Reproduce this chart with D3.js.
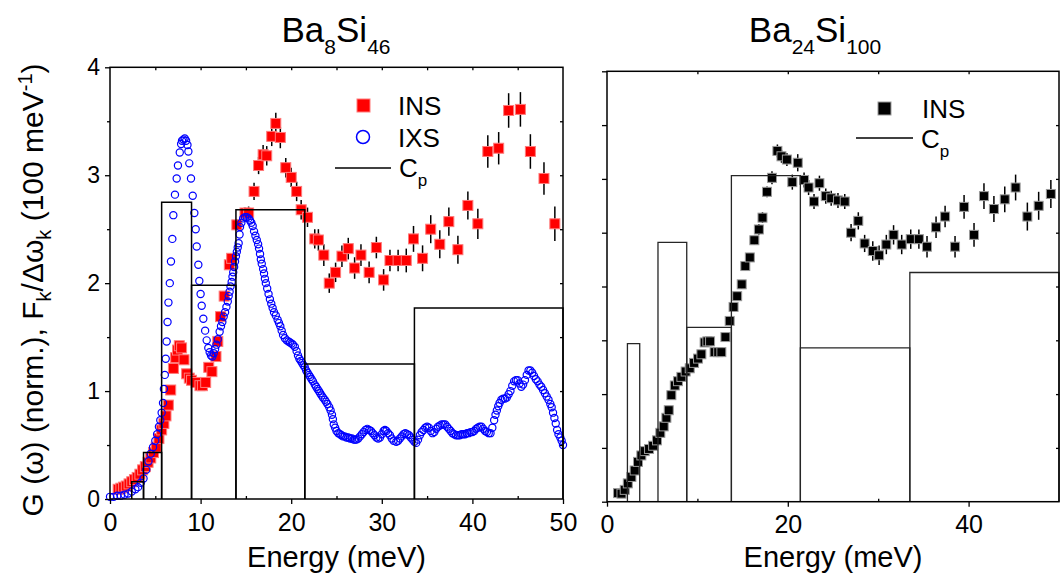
<!DOCTYPE html>
<html>
<head>
<meta charset="utf-8">
<script src="https://cdn.jsdelivr.net/npm/d3@7"></script>
<style>
  html, body { margin: 0; padding: 0; background: #fff; }
  svg text { font-family: "Liberation Sans", Arial, sans-serif; fill: #000; }
</style>
</head>
<body>
<svg id="chart" width="1064" height="585"></svg>
<script>
// ---------- Ba8Si46: IXS phonon DOS G(w), normalised ----------
const ixsEnergy = [
  0.0,0.4,0.8,1.2,1.6,2.0,2.4,2.8,3.1,3.4,3.7,4.0,4.25,4.5,4.75,5.0,5.2,5.4,5.55,5.7,
  5.85,5.95,6.05,6.15,6.25,6.35,6.45,6.6,6.73,6.88,6.99,7.17,7.36,7.5,7.7,7.85,7.95,8.1,8.25,8.4,
  8.55,8.65,8.75,8.94,9.13,9.31,9.46,9.57,9.75,9.86,10.0,10.12,10.3,10.5,10.67,10.85,11.0,11.15,11.3,11.45,
  11.6,11.75,11.9,12.1,12.25,12.4,12.55,12.7,12.85,13.0,13.1,13.2,13.3,13.43,13.52,13.6,13.7,13.8,13.9,14.0,
  14.1,14.2,14.3,14.35,14.5,14.7,14.9,15.1,15.3,15.45,15.6,15.75,15.9,16.05,16.2,16.35,16.45,16.56,16.65,16.75,
  16.9,17.0,17.1,17.2,17.35,17.5,17.65,17.8,17.95,18.1,18.3,18.5,18.65,18.8,18.95,19.1,19.3,19.5,19.7,19.87,
  20.05,20.2,20.4,20.6,20.75,20.9,21.05,21.2,21.35,21.5,21.65,21.8,21.95,22.1,22.25,22.4,22.6,22.75,22.9,23.05,
  23.2,23.35,23.5,23.7,23.85,24.0,24.2,24.35,24.5,24.6,24.7,24.85,25.0,25.2,25.4,25.55,25.7,25.9,26.1,26.3,
  26.5,26.7,26.9,27.05,27.2,27.4,27.6,27.8,28.0,28.2,28.4,28.6,28.8,29.0,29.2,29.4,29.6,29.8,30.0,30.2,
  30.35,30.5,30.7,30.9,31.1,31.3,31.6,31.8,32.0,32.2,32.4,32.6,32.8,33.0,33.2,33.4,33.6,33.8,34.0,34.2,
  34.4,34.6,34.8,35.0,35.2,35.4,35.6,35.8,36.0,36.2,36.4,36.6,36.8,37.0,37.2,37.4,37.6,37.8,38.0,38.2,
  38.4,38.6,38.8,39.0,39.2,39.4,39.6,39.8,40.0,40.2,40.4,40.6,40.8,41.0,41.2,41.4,41.6,41.8,42.0,42.2,
  42.4,42.55,42.7,42.85,43.0,43.2,43.4,43.6,43.8,44.0,44.2,44.4,44.6,44.8,45.0,45.2,45.4,45.6,45.8,46.0,
  46.2,46.4,46.6,46.8,47.0,47.2,47.4,47.6,47.8,48.0,48.2,48.4,48.6,48.75,48.9,49.05,49.2,49.35,49.5,49.7,
  49.85,50.0
];
const ixsG = [
  0.02,0.02,0.03,0.03,0.04,0.05,0.07,0.09,0.11,0.15,0.19,0.27,0.35,0.42,0.48,0.54,0.60,0.67,0.73,0.80,
  0.89,1.02,1.15,1.30,1.46,1.64,1.82,2.00,2.20,2.41,2.63,2.82,2.97,3.09,3.21,3.29,3.32,3.33,3.34,3.32,
  3.28,3.22,3.11,2.97,2.81,2.65,2.50,2.34,2.17,2.02,1.90,1.79,1.67,1.56,1.47,1.40,1.36,1.33,1.32,1.35,
  1.39,1.43,1.48,1.55,1.60,1.64,1.69,1.73,1.78,1.83,1.88,1.92,1.97,2.01,2.06,2.10,2.15,2.20,2.25,2.29,
  2.33,2.37,2.45,2.52,2.56,2.60,2.61,2.61,2.60,2.58,2.56,2.53,2.48,2.44,2.40,2.36,2.32,2.27,2.22,2.18,
  2.13,2.09,2.04,2.00,1.95,1.90,1.85,1.81,1.77,1.73,1.70,1.66,1.63,1.60,1.56,1.52,1.49,1.47,1.46,1.45,
  1.44,1.43,1.41,1.37,1.33,1.30,1.28,1.26,1.24,1.22,1.19,1.17,1.15,1.13,1.11,1.09,1.06,1.04,1.02,1.00,
  0.98,0.96,0.94,0.92,0.90,0.88,0.85,0.82,0.78,0.74,0.69,0.66,0.63,0.61,0.60,0.59,0.58,0.58,0.57,0.57,
  0.56,0.56,0.55,0.55,0.55,0.56,0.58,0.60,0.62,0.64,0.65,0.64,0.63,0.61,0.59,0.57,0.56,0.57,0.60,0.63,
  0.64,0.63,0.61,0.59,0.56,0.54,0.53,0.54,0.56,0.58,0.60,0.61,0.60,0.59,0.57,0.55,0.53,0.52,0.55,0.59,
  0.62,0.64,0.66,0.67,0.66,0.63,0.61,0.62,0.65,0.67,0.68,0.69,0.69,0.69,0.67,0.65,0.63,0.61,0.60,0.59,
  0.59,0.59,0.60,0.60,0.60,0.61,0.61,0.62,0.62,0.63,0.65,0.66,0.67,0.67,0.65,0.63,0.62,0.61,0.61,0.66,
  0.73,0.78,0.82,0.86,0.89,0.92,0.93,0.93,0.94,0.97,1.00,1.05,1.09,1.10,1.10,1.07,1.04,1.06,1.10,1.15,
  1.19,1.19,1.17,1.14,1.11,1.09,1.06,1.04,1.01,0.98,0.95,0.92,0.88,0.85,0.80,0.75,0.70,0.64,0.60,0.57,
  0.54,0.50
];

// ---------- Ba8Si46: INS, F_k / dw_k ----------
const insEnergyA = [
  0.9,1.2,1.5,1.8,2.1,2.4,2.7,3.0,3.3,3.6,3.9,4.2,4.5,4.8,5.1,5.4,5.7,
  5.95,6.18,6.44,6.7,7.0,7.25,7.45,7.65,7.9,8.17,
  8.46,8.75,9.0,9.5,9.93,10.2,10.56,10.9,11.25,11.7,
  11.9,12.2,12.6,13.17,13.43,14.0,14.9,15.3,15.9,16.4,
  16.9,17.3,17.85,18.3,18.8,19.4,20.0,20.6,21.1,21.8,
  22.6,23.0,23.6,24.2,24.9,25.6,26.3,27.0,27.7,28.6,
  29.4,30.2,30.9,31.8,32.7,33.5,34.5,35.4,36.4,37.4,
  38.4,39.5,40.6,41.7,42.9,44.0,45.3,46.4,47.9,49.1
];
const insValueA = [
  0.09,0.10,0.11,0.12,0.14,0.16,0.18,0.20,0.23,0.27,0.30,0.34,0.38,0.43,0.48,0.56,0.64,
  0.70,0.77,0.87,1.01,1.21,1.31,1.38,1.42,1.40,1.29,
  1.16,1.12,1.10,1.08,1.05,1.05,1.08,1.22,1.18,1.32,
  1.46,1.69,1.88,2.17,2.23,2.54,2.65,2.65,2.85,3.09,
  3.19,3.18,3.36,3.48,3.35,3.07,2.98,2.85,2.68,2.61,
  2.41,2.40,2.26,2.00,2.10,2.25,2.32,2.14,2.26,2.10,
  2.33,2.03,2.21,2.21,2.21,2.41,2.23,2.50,2.36,2.57,
  2.31,2.72,2.55,3.22,3.25,3.60,3.61,3.22,2.97,2.55
];
const insErrA = [
  0.015,0.015,0.015,0.015,0.015,0.015,0.015,0.015,0.015,0.015,0.015,0.015,0.015,0.015,0.015,0.015,0.015,
  0.02,0.02,0.02,0.02,0.02,0.02,0.02,0.02,0.02,0.02,
  0.02,0.02,0.02,0.02,0.02,0.02,0.02,0.02,0.02,0.02,
  0.02,0.02,0.03,0.03,0.04,0.05,0.05,0.06,0.08,0.08,
  0.09,0.09,0.09,0.10,0.10,0.09,0.09,0.09,0.09,0.09,
  0.09,0.10,0.10,0.09,0.09,0.10,0.10,0.10,0.10,0.10,
  0.10,0.10,0.10,0.10,0.11,0.12,0.12,0.13,0.13,0.13,
  0.13,0.13,0.14,0.15,0.15,0.16,0.16,0.16,0.15,0.16
];

// ---------- Ba8Si46: heat-capacity histogram (C_p) ----------
const cpLoA = [2.4, 3.7, 5.7, 9.0, 13.9, 21.5, 33.6];
const cpHiA = [3.7, 5.7, 9.0, 13.9, 21.5, 33.6, 50.0];
const cpValA = [0.16, 0.43, 2.75, 1.98, 2.68, 1.25, 1.77];

// ---------- Ba24Si100: INS ----------
const insEnergyB = [
  1.22,1.6,1.96,2.3,2.7,3.06,3.43,3.8,4.17,4.65,
  5.1,5.53,5.9,6.27,6.57,6.83,7.12,7.5,7.85,8.23,
  8.7,9.15,9.63,10.07,10.44,10.8,11.1,11.4,11.9,12.3,12.65,13.1,
  13.57,14.0,14.4,14.9,15.3,15.8,16.3,16.8,17.2,17.7,
  18.25,18.85,19.3,19.9,20.5,21.1,21.8,22.3,22.9,23.5,
  24.2,24.8,25.55,26.3,27.0,27.8,28.5,29.4,30.1,30.9,
  31.7,32.6,33.6,34.5,35.4,36.4,37.4,38.5,39.5,40.6,
  41.7,42.8,44.0,45.2,46.5,47.75,49.1
];
const insValueB = [
  0.08,0.075,0.11,0.17,0.23,0.29,0.37,0.43,0.47,0.49,
  0.52,0.57,0.64,0.70,0.78,0.85,0.99,1.08,1.12,1.16,
  1.21,1.24,1.29,1.33,1.37,1.48,1.49,1.49,1.39,1.39,1.39,1.53,
  1.68,1.81,1.91,2.02,2.19,2.27,2.43,2.53,2.64,2.88,
  3.01,3.26,3.21,3.18,2.97,3.15,2.99,2.92,2.79,2.96,
  2.84,2.82,2.80,2.79,2.50,2.61,2.40,2.33,2.29,2.39,
  2.48,2.39,2.44,2.44,2.37,2.55,2.65,2.37,2.74,2.48,
  2.84,2.72,2.81,2.92,2.65,2.75,2.86
];
const insErrB = [
  0.015,0.015,0.015,0.015,0.015,0.015,0.015,0.015,0.015,0.015,
  0.015,0.015,0.015,0.015,0.015,0.015,0.02,0.02,0.02,0.02,
  0.02,0.02,0.02,0.02,0.02,0.02,0.02,0.02,0.02,0.02,0.02,0.02,
  0.03,0.03,0.03,0.04,0.04,0.04,0.04,0.05,0.05,0.05,
  0.06,0.06,0.06,0.06,0.07,0.08,0.07,0.07,0.07,0.07,
  0.07,0.07,0.07,0.07,0.08,0.08,0.08,0.09,0.09,0.09,
  0.09,0.09,0.09,0.09,0.10,0.10,0.10,0.10,0.11,0.11,
  0.12,0.12,0.12,0.12,0.13,0.13,0.13
];

// ---------- Ba24Si100: heat-capacity histogram (C_p) ----------
const cpLoB = [2.26, 5.64, 8.82, 13.76, 21.39, 33.5];
const cpHiB = [3.62, 8.82, 13.76, 21.39, 33.5, 50.0];
const cpValB = [1.47, 2.41, 1.62, 3.03, 1.43, 2.13];

// ---------- tick values ----------
const xMajorA = [0, 10, 20, 30, 40, 50];
const xMinorA = [5, 15, 25, 35, 45];
const xTopA = [5, 10, 15, 20, 25, 30, 35, 40, 45];
const yMajorA = [0, 1, 2, 3, 4];
const yMinorA = [0.5, 1.5, 2.5, 3.5];
const yRightA = [0.5, 1, 1.5, 2, 2.5, 3, 3.5];
const xMajorB = [0, 20, 40];
const xMinorB = [10, 30];
const xTopB = [10, 20, 30, 40];
const yLeftB = [0, 0.5, 1, 1.5, 2, 2.5, 3, 3.5, 4];
const yRightB = [0.5, 1, 1.5, 2, 2.5, 3, 3.5];

// ================= drawing =================
const svg = d3.select("#chart");
const RED = "#ff0000", BLUE = "#0000ff";

const panelA = { x: d3.scaleLinear([0, 50], [110, 563]), y: d3.scaleLinear([0, 4], [499, 67.3]) };
const panelB = { x: d3.scaleLinear([0, 50], [607, 1059]), y: d3.scaleLinear([0, 4], [501.7, 71.3]) };

function styleAxis(g) {
  g.select(".domain").remove();
  g.selectAll(".tick line").attr("stroke", "#000").attr("stroke-width", 1.3);
}

function frame(p) {
  const [x0, x1] = p.x.range(), [y0, y1] = p.y.range();
  svg.append("rect")
    .attr("x", x0).attr("y", y1).attr("width", x1 - x0).attr("height", y0 - y1)
    .attr("fill", "none").attr("stroke", "#000").attr("stroke-width", 1.5);
}

function axes(p, o) {
  const [x0, x1] = p.x.range(), [y0, y1] = p.y.range();
  // bottom: labelled majors outward, minors inward
  svg.append("g").attr("transform", `translate(0,${y0})`)
    .call(d3.axisBottom(p.x).tickValues(o.xMajor).tickSize(5).tickPadding(9).tickSizeOuter(0).tickFormat(d3.format("d")))
    .call(styleAxis)
    .call(g => g.selectAll("text").attr("font-size", 25).attr("fill", "#000"));
  svg.append("g").attr("transform", `translate(0,${y0})`)
    .call(d3.axisBottom(p.x).tickValues(o.xMinor).tickSize(-3).tickFormat(""))
    .call(styleAxis);
  // top: inward ticks
  svg.append("g").attr("transform", `translate(0,${y1})`)
    .call(d3.axisTop(p.x).tickValues(o.xTop).tickSize(-3).tickFormat(""))
    .call(styleAxis);
  // left
  if (o.yMajor) {
    svg.append("g").attr("transform", `translate(${x0},0)`)
      .call(d3.axisLeft(p.y).tickValues(o.yMajor).tickSize(5).tickPadding(5).tickFormat(d3.format("d")))
      .call(styleAxis)
      .call(g => g.selectAll("text").attr("font-size", 23).attr("fill", "#000"));
  }
  svg.append("g").attr("transform", `translate(${x0},0)`)
    .call(d3.axisLeft(p.y).tickValues(o.yLeft).tickSize(o.yLeftSize).tickFormat(""))
    .call(styleAxis);
  // right: inward ticks
  svg.append("g").attr("transform", `translate(${x1},0)`)
    .call(d3.axisRight(p.y).tickValues(o.yRight).tickSize(-3).tickFormat(""))
    .call(styleAxis);
}

function cpBoxes(p, lo, hi, val, color, width) {
  const bins = lo.map((d, i) => ({ lo: d, hi: hi[i], v: val[i] }));
  svg.append("g").selectAll("path").data(bins).join("path")
    .attr("d", b => `M${p.x(b.lo)},${p.y(0)}V${p.y(b.v)}H${p.x(b.hi)}V${p.y(0)}`)
    .attr("fill", "none").attr("stroke", color).attr("stroke-width", width);
}

function insSeries(p, E, V, err, fill, edge, size) {
  const pts = E.map((e, i) => ({ e, v: V[i], s: err[i] }));
  const g = svg.append("g");
  g.selectAll("line").data(pts).join("line")
    .attr("x1", d => p.x(d.e)).attr("x2", d => p.x(d.e))
    .attr("y1", d => p.y(d.v - d.s)).attr("y2", d => p.y(d.v + d.s))
    .attr("stroke", "#000").attr("stroke-width", 1.5);
  g.selectAll("rect").data(pts).join("rect")
    .attr("x", d => p.x(d.e) - size / 2).attr("y", d => p.y(d.v) - size / 2)
    .attr("width", size).attr("height", size)
    .attr("fill", fill).attr("stroke", edge).attr("stroke-width", 1);
}

// ---- panel A: Ba8Si46 ----
insSeries(panelA, insEnergyA, insValueA, insErrA, RED, "#ff7a7a", 10);
svg.append("g").selectAll("circle").data(ixsEnergy.map((e, i) => [e, ixsG[i]])).join("circle")
  .attr("cx", d => panelA.x(d[0])).attr("cy", d => panelA.y(d[1])).attr("r", 3.6)
  .attr("fill", "none").attr("stroke", BLUE).attr("stroke-width", 1.2);
cpBoxes(panelA, cpLoA, cpHiA, cpValA, "#000", 1.5);
frame(panelA);
axes(panelA, { xMajor: xMajorA, xMinor: xMinorA, xTop: xTopA, yMajor: yMajorA,
               yLeft: yMinorA, yLeftSize: 3, yRight: yRightA });

// ---- panel B: Ba24Si100 ----
insSeries(panelB, insEnergyB, insValueB, insErrB, "#000", "#9a9a9a", 9);
cpBoxes(panelB, cpLoB, cpHiB, cpValB, "#262626", 1.3);
frame(panelB);
axes(panelB, { xMajor: xMajorB, xMinor: xMinorB, xTop: xTopB, yMajor: null,
               yLeft: yLeftB, yLeftSize: 5, yRight: yRightB });

// ---- titles ----
function formula(x, parts) {
  const t = svg.append("text").attr("x", x).attr("y", 42).attr("text-anchor", "middle").attr("font-size", 35);
  parts.forEach(([s, sub]) => {
    t.append("tspan").text(s).attr("font-size", sub ? 21 : 35).attr("dy", sub ? 12 : -12);
  });
  t.select("tspan").attr("dy", 0);
}
formula(336, [["Ba", false], ["8", true], ["Si", false], ["46", true]]);
formula(815, [["Ba", false], ["24", true], ["Si", false], ["100", true]]);

// ---- axis titles ----
[panelA, panelB].forEach(p => {
  const [x0, x1] = p.x.range();
  svg.append("text").attr("x", (x0 + x1) / 2).attr("y", 567)
    .attr("text-anchor", "middle").attr("font-size", 29).text("Energy (meV)");
});

const yTitle = svg.append("text").attr("transform", "translate(43,290) rotate(-90)")
  .attr("text-anchor", "middle").attr("font-size", 30);
yTitle.append("tspan").text("G (\u03c9) (norm.),  F");
yTitle.append("tspan").text("k").attr("font-size", 20).attr("dy", 8);
yTitle.append("tspan").text("/\u0394\u03c9").attr("dy", -8);
yTitle.append("tspan").text("k").attr("font-size", 20).attr("dy", 8);
yTitle.append("tspan").text(" (100 meV").attr("dy", -8);
yTitle.append("tspan").text("-1").attr("font-size", 20).attr("dy", -11);
yTitle.append("tspan").text(")").attr("dy", 11);

// ---- legends ----
function cpLabel(x, y) {
  const t = svg.append("text").attr("x", x).attr("y", y).attr("font-size", 26);
  t.append("tspan").text("C");
  t.append("tspan").text("p").attr("font-size", 17).attr("dy", 9);
}
const legA = svg.append("g");
legA.append("rect").attr("x", 357).attr("y", 99).attr("width", 13).attr("height", 13)
  .attr("fill", RED).attr("stroke", "#ff7a7a");
legA.append("text").attr("x", 398).attr("y", 115).attr("font-size", 26).text("INS");
legA.append("circle").attr("cx", 363).attr("cy", 137).attr("r", 6.5)
  .attr("fill", "none").attr("stroke", BLUE).attr("stroke-width", 1.5);
legA.append("text").attr("x", 398).attr("y", 147).attr("font-size", 26).text("IXS");
legA.append("line").attr("x1", 335).attr("x2", 391).attr("y1", 168).attr("y2", 168)
  .attr("stroke", "#000").attr("stroke-width", 1.3);
cpLabel(399, 177);

const legB = svg.append("g");
legB.append("rect").attr("x", 878).attr("y", 102).attr("width", 13).attr("height", 13)
  .attr("fill", "#000").attr("stroke", "#9a9a9a");
legB.append("text").attr("x", 922).attr("y", 118).attr("font-size", 26).text("INS");
legB.append("line").attr("x1", 856).attr("x2", 913).attr("y1", 138).attr("y2", 138)
  .attr("stroke", "#000").attr("stroke-width", 1.3);
cpLabel(921, 148);
</script>
</body>
</html>
